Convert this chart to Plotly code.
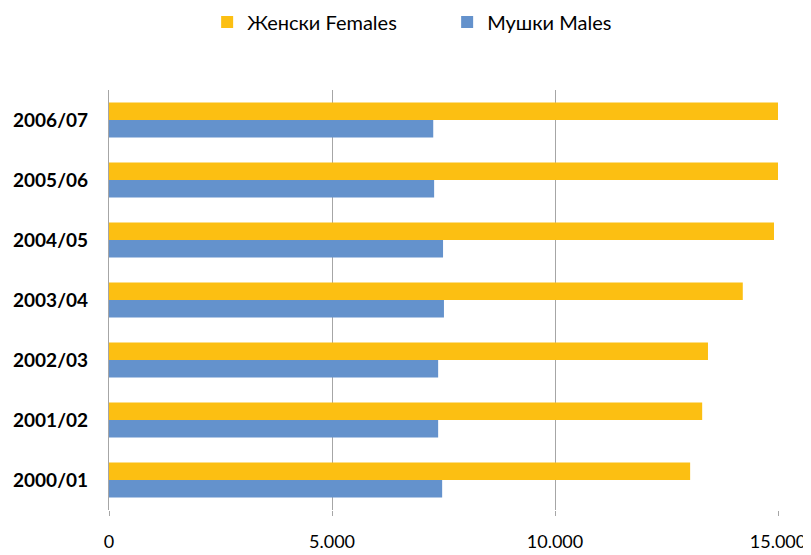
import plotly.graph_objects as go

categories = ["2000/01", "2001/02", "2002/03", "2003/04", "2004/05", "2005/06", "2006/07"]
females = [13030, 13300, 13430, 14210, 14910, 15000, 15000]
males = [7470, 7380, 7380, 7510, 7490, 7290, 7270]
x_ticks = [0, 5000, 10000, 15000]

FONT = "Lato, 'Noto Sans', sans-serif"
GRID = "#A6A6A6"

fig = go.Figure()
fig.add_trace(go.Bar(
    y=categories, x=males, orientation="h", name="Мушки Males",
    marker=dict(color="#6492CC", line=dict(width=0)), legendrank=2,
))
fig.add_trace(go.Bar(
    y=categories, x=females, orientation="h", name="Женски Females",
    marker=dict(color="#FCBF12", line=dict(width=0)), legendrank=1,
))

# page body adds an 8px offset, so the figure is sized to fill the remaining window
fig.update_layout(
    width=803, height=547,
    paper_bgcolor="white", plot_bgcolor="white",
    barmode="group", bargap=0.42, bargroupgap=0,
    separators=",.",
    margin=dict(l=101, r=33, t=82, b=45, autoexpand=False),
    font=dict(family=FONT, size=18, color="#000000"),
    legend=dict(
        orientation="h", xref="container", yref="paper",
        x=0.248, xanchor="left", y=1.162, yanchor="middle",
        font=dict(family=FONT, size=20, color="#000000"),
        itemwidth=30, entrywidth=195, entrywidthmode="pixels",
    ),
    showlegend=True,
)
fig.update_xaxes(
    range=[0, 15000], tickvals=x_ticks, tickformat=",d",
    showgrid=True, gridcolor=GRID, gridwidth=1.3,
    zeroline=False, showline=False,
    ticks="outside", ticklen=5, tickcolor=GRID, tickwidth=1.3,
    ticklabelstandoff=10, automargin=False,
    tickfont=dict(family=FONT, size=18, color="#000000"),
    fixedrange=True,
)
fig.update_yaxes(
    showgrid=False, zeroline=False, automargin=False,
    showline=True, linecolor=GRID, linewidth=1.3,
    ticks="", ticklabelstandoff=16,
    tickfont=dict(family=FONT, size=19, color="#000000", weight="bold"),
    fixedrange=True,
)

fig.write_html("out.html")
